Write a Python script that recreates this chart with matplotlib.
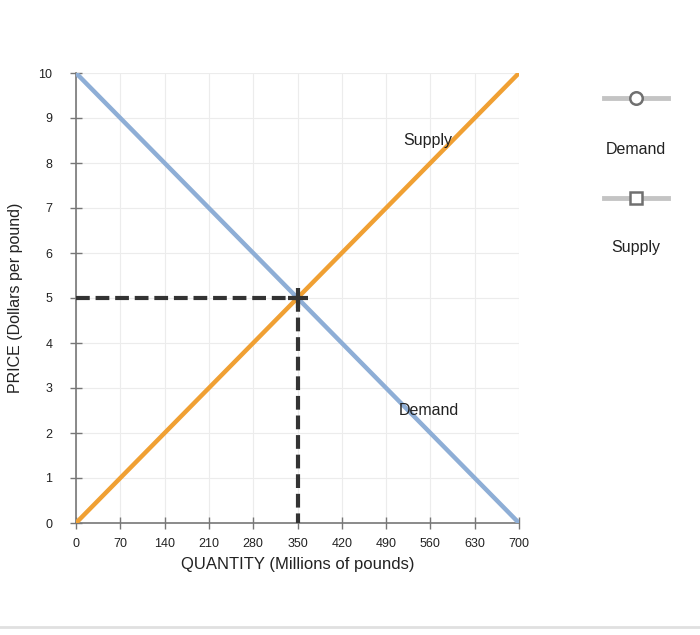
import matplotlib
matplotlib.use("Agg")
import matplotlib.pyplot as plt
from matplotlib.lines import Line2D

quantity = [0, 700]
demand_price = [10, 0]
supply_price = [0, 10]
eq_q = 350
eq_p = 5
x_ticks = [0, 70, 140, 210, 280, 350, 420, 490, 560, 630, 700]
y_ticks = [0, 1, 2, 3, 4, 5, 6, 7, 8, 9, 10]

fig = plt.figure(figsize=(7, 6.35), dpi=100)
ax = fig.add_axes([76/700, 1-523/635, 443/700, 450/635])

blue = "#8eaed6"
orange = "#f0a033"
font = "Liberation Sans"

ax.plot(quantity, demand_price, color=blue, lw=3.2, solid_capstyle="butt", zorder=3)
ax.plot(quantity, supply_price, color=orange, lw=3.2, solid_capstyle="butt", zorder=3)
ax.plot([0, eq_q], [eq_p, eq_p], color="#333333", lw=3, ls=(0, (3.3, 1.4)), zorder=4)
ax.plot([eq_q, eq_q], [eq_p, 0], color="#333333", lw=3, ls=(0, (3.3, 1.4)), zorder=4)
ax.plot([eq_q], [eq_p], marker="+", ms=14, mew=3, color="#333333", zorder=5)

ax.text(556, 8.51, "Supply", ha="center", va="center", fontsize=11.5, family=font, color="#222222", zorder=6)
ax.text(557, 2.49, "Demand", ha="center", va="center", fontsize=11.5, family=font, color="#222222", zorder=6)

ax.set_xlim(0, 700)
ax.set_ylim(0, 10)
ax.set_xticks(x_ticks)
ax.set_yticks(y_ticks)
ax.set_xticklabels([str(v) for v in x_ticks], fontsize=9, family=font, color="#222222")
ax.set_yticklabels([str(v) for v in y_ticks], fontsize=9, family=font, color="#222222")
ax.tick_params(axis="both", direction="inout", length=8, width=1, color="#777777")
ax.tick_params(axis="x", pad=7)
ax.tick_params(axis="y", pad=13)
ax.grid(True, color="#ececec", lw=0.8, zorder=0)
ax.set_axisbelow(True)
for s in ["top", "right"]:
    ax.spines[s].set_visible(False)
for s in ["left", "bottom"]:
    ax.spines[s].set_color("#777777")
    ax.spines[s].set_linewidth(1.2)

ax.set_xlabel("QUANTITY (Millions of pounds)", fontsize=12, family=font, color="#222222", labelpad=5)
ax.set_ylabel("PRICE (Dollars per pound)", fontsize=11.5, family=font, color="#222222")
ax.yaxis.set_label_coords(-53/443, 0.5)

# legend
def fy(py):
    return 1 - py/635

for py, mk, lab, ly in [(98, "o", "Demand", 150), (198, "s", "Supply", 247)]:
    fig.add_artist(Line2D([604/700, 668/700], [fy(py), fy(py)], transform=fig.transFigure,
                          color="#c4c4c4", lw=3.5))
    fig.add_artist(Line2D([636/700], [fy(py)], transform=fig.transFigure, marker=mk,
                          ms=9 if mk == "o" else 8, mfc="white", mec="#707070", mew=1.8, ls="none"))
    fig.text(636/700, fy(ly), lab, ha="center", va="center", fontsize=11.5,
             family=font, color="#222222")

fig.add_artist(Line2D([0, 1], [fy(627), fy(627)], transform=fig.transFigure, color="#e0e0e0", lw=2))

fig.savefig("out.png", dpi=100)
